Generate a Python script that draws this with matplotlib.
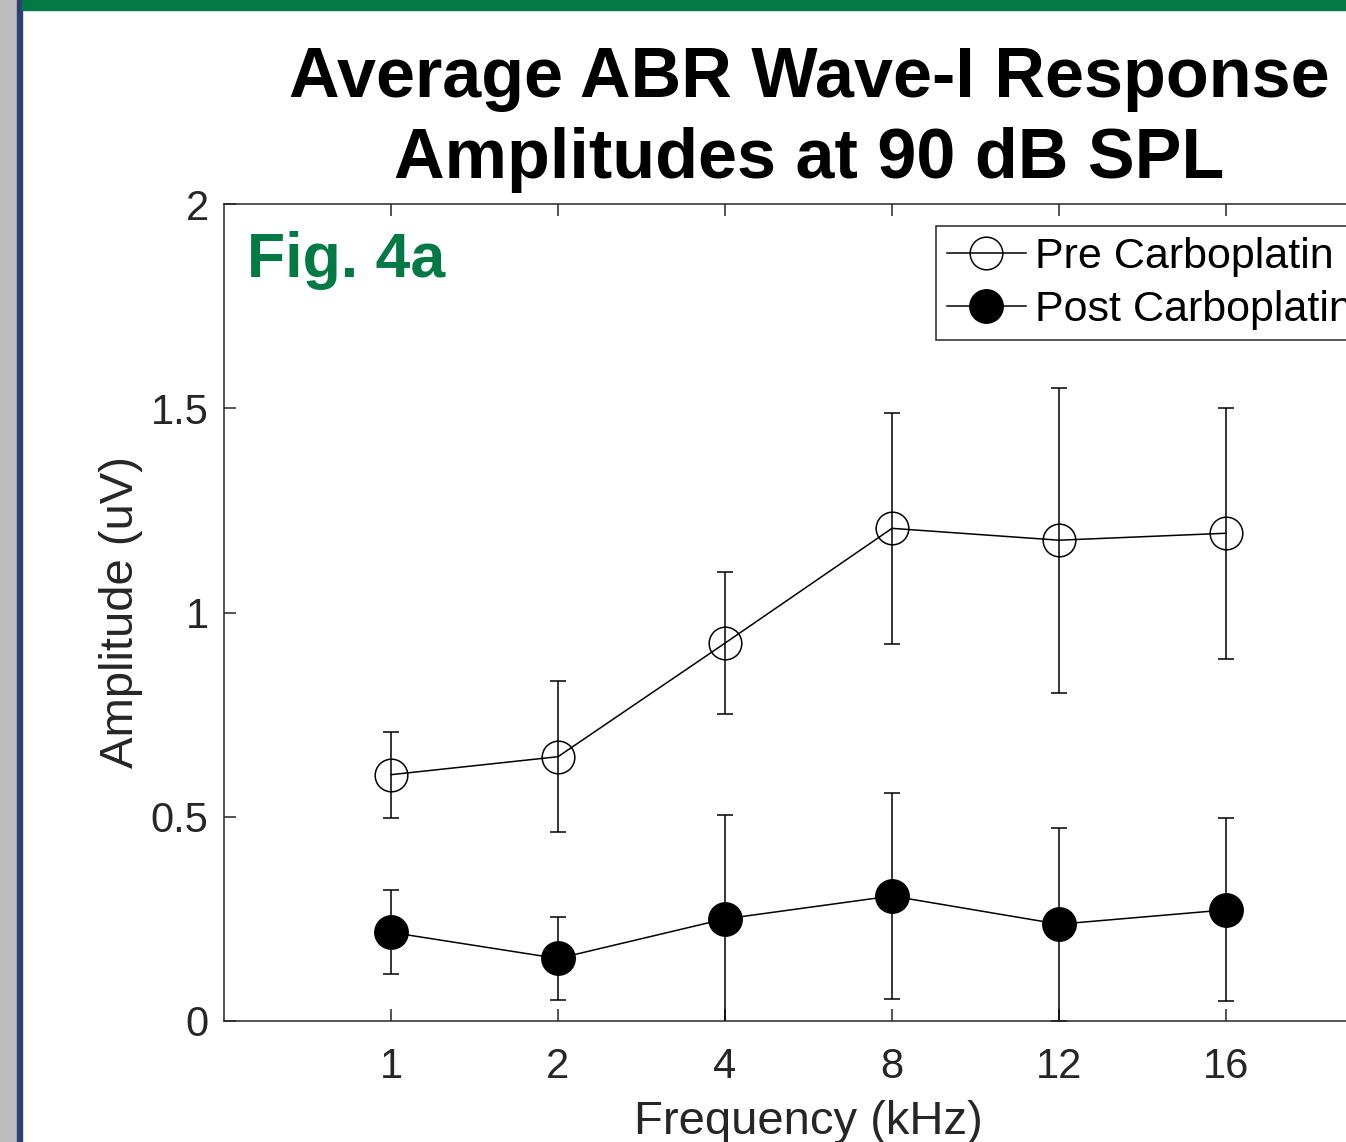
import matplotlib
matplotlib.use('Agg')
import matplotlib.pyplot as plt
from matplotlib.patches import Rectangle

# frequencies (kHz) plotted as evenly spaced categories
freq_labels = ['1', '2', '4', '8', '12', '16']
pre_mean = [0.603, 0.647, 0.925, 1.206, 1.177, 1.194]
pre_err = [0.105, 0.185, 0.173, 0.283, 0.373, 0.307]
post_mean = [0.217, 0.153, 0.250, 0.306, 0.237, 0.272]
post_err = [0.103, 0.102, 0.254, 0.251, 0.236, 0.224]

GREEN = '#037a45'
AXCOL = '#262626'

plt.rcParams['font.family'] = ['Liberation Sans', 'DejaVu Sans']

fig = plt.figure(figsize=(13.46, 11.42), dpi=100)
W, H = 1346, 1142

# slide decorations: gray strip, blue rule, green top bar
fig.patches.append(Rectangle((0, 0), 17 / W, 1, transform=fig.transFigure,
                             color='#bdbdbd', zorder=0))
fig.patches.append(Rectangle((17 / W, 0), 5 / W, 1, transform=fig.transFigure,
                             color='#2c4172', zorder=0))
fig.patches.append(Rectangle((22 / W, 1 - 10 / H), 1, 10 / H,
                             transform=fig.transFigure, color=GREEN, zorder=0))

# axes run past the right edge, like the cropped original
ax = fig.add_axes([224 / W, 1 - 1021 / H, 1169 / W, 817 / H])
x = list(range(1, len(freq_labels) + 1))

# error bars first, then the lines/markers (the latter feed the legend)
ax.errorbar(x, pre_mean, yerr=pre_err, fmt='none', ecolor='black',
            elinewidth=1.1, capsize=5.8, capthick=1.1)
ax.errorbar(x, post_mean, yerr=post_err, fmt='none', ecolor='black',
            elinewidth=1.1, capsize=5.8, capthick=1.1)
ax.plot(x, pre_mean, color='black', lw=1.1, marker='o', ms=23.5, mfc='none',
        mec='black', mew=1.1, label='Pre Carboplatin')
ax.plot(x, post_mean, color='black', lw=1.1, marker='o', ms=24, mfc='black',
        mec='black', mew=1.1, label='Post Carboplatin')

ax.set_xlim(0, 7)
ax.set_ylim(0, 2)
ax.set_xticks(x)
ax.set_xticklabels(freq_labels)
ax.set_yticks([0, 0.5, 1, 1.5, 2])
ax.set_yticklabels(['0', '0.5', '1', '1.5', '2'])

for s in ax.spines.values():
    s.set_color(AXCOL)
    s.set_linewidth(1.1)
ax.tick_params(direction='in', length=8.5, width=1.1, color=AXCOL,
               labelcolor=AXCOL, labelsize=30, top=True, right=True)
ax.tick_params(axis='y', pad=11)
ax.tick_params(axis='x', pad=19)

ax.set_xlabel('Frequency (kHz)', fontsize=34, color=AXCOL, labelpad=9)
ax.set_ylabel('Amplitude (uV)', fontsize=34, color=AXCOL, labelpad=6)

ax.text(23 / 1169, (1021 - 277) / 817, 'Fig. 4a', transform=ax.transAxes,
        fontsize=45, fontweight='bold', color=GREEN, va='baseline', ha='left')

fig.text(809 / W, 1 - 178 / H, 'Average ABR Wave-I Response\nAmplitudes at 90 dB SPL',
         fontsize=50.5, fontweight='bold', ha='center', va='baseline',
         linespacing=1.3, multialignment='center')

leg = ax.legend(loc='upper left', bbox_to_anchor=((936 - 224) / 1169, (1021 - 226) / 817),
                fontsize=31, frameon=True, fancybox=False, framealpha=1,
                edgecolor=AXCOL, handlelength=1.84, handletextpad=0.22,
                labelspacing=0.3, borderpad=0.25, borderaxespad=0)
leg.get_frame().set_linewidth(1.1)

plt.savefig('out.png', dpi=100)
